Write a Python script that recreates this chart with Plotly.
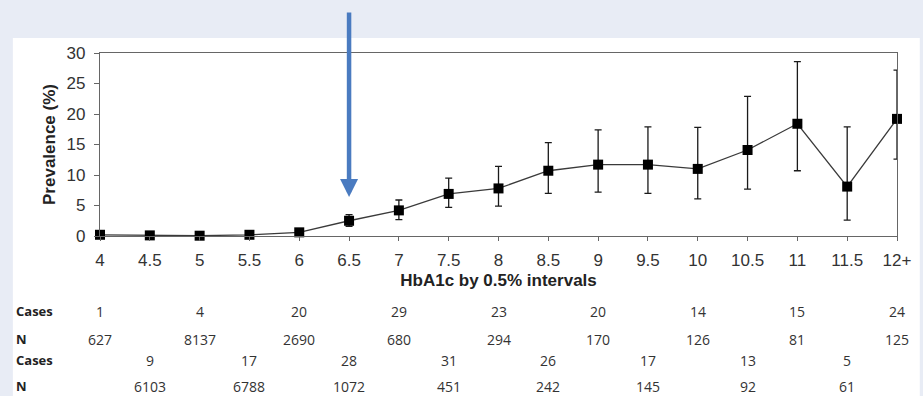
import plotly.graph_objects as go

# HbA1c bands (0.5% intervals) and prevalence with 95% CI
categories = ["4", "4.5", "5", "5.5", "6", "6.5", "7", "7.5", "8", "8.5",
              "9", "9.5", "10", "10.5", "11", "11.5", "12+"]
prevalence = [0.2, 0.1, 0.05, 0.2, 0.6, 2.5, 4.2, 6.9, 7.8, 10.7,
              11.7, 11.7, 11.0, 14.1, 18.4, 8.1, 19.2]
ci_upper = [0.4, 0.2, 0.1, 0.3, 0.9, 3.5, 5.9, 9.5, 11.4, 15.3,
            17.4, 17.9, 17.8, 22.9, 28.6, 17.9, 27.2]
ci_lower = [0.0, 0.0, 0.0, 0.1, 0.4, 1.6, 2.7, 4.7, 4.9, 7.0,
            7.2, 7.0, 6.1, 7.7, 10.7, 2.6, 12.6]

# Counts shown under the axis (cases / N), alternating rows
cases = [1, 9, 4, 17, 20, 28, 29, 31, 23, 26, 20, 17, 14, 13, 15, 5, 24]
totals = [627, 6103, 8137, 6788, 2690, 1072, 680, 451, 294, 242,
          170, 145, 126, 92, 81, 61, 125]

y_ticks = [0, 5, 10, 15, 20, 25, 30]

W, H = 923, 396
L, R, T, B = 100, 18, 53, 160
plot_h = H - T - B

xs = list(range(len(categories)))
err_plus = [u - v for u, v in zip(ci_upper, prevalence)]
err_minus = [v - l for v, l in zip(prevalence, ci_lower)]

fig = go.Figure()
fig.add_trace(go.Scatter(
    x=xs, y=prevalence, mode="lines+markers",
    line=dict(color="#3a3a3a", width=1.3),
    marker=dict(symbol="square", size=10, color="black"),
    error_y=dict(type="data", array=err_plus, arrayminus=err_minus,
                 symmetric=False, color="#1a1a1a", thickness=1.3, width=3.5),
    cliponaxis=False, showlegend=False,
))

def py_to_paper(py):
    return (H - B - py) / plot_h

sans = "Liberation Sans, Arial, sans-serif"
tick_font = dict(family=sans, size=17, color="#333")
table_font = dict(family="Open Sans, Liberation Sans, sans-serif", size=14, color="#333")
label_font = dict(family="Open Sans, Liberation Sans, sans-serif", size=13, color="#222")

annotations = []
row_y = [311, 339, 360, 386]
for i, (c, n) in enumerate(zip(cases, totals)):
    r = 0 if i % 2 == 0 else 2
    annotations.append(dict(x=i, y=py_to_paper(row_y[r]), xref="x", yref="paper",
                            text=str(c), showarrow=False, font=table_font,
                            xanchor="center", yanchor="middle"))
    annotations.append(dict(x=i, y=py_to_paper(row_y[r + 1]), xref="x", yref="paper",
                            text=str(n), showarrow=False, font=table_font,
                            xanchor="center", yanchor="middle"))
for ry, lab in zip(row_y, ["Cases", "N", "Cases", "N"]):
    annotations.append(dict(x=(13 - L) / (W - L - R), y=py_to_paper(ry),
                            xref="paper", yref="paper", text="<b>" + lab + "</b>",
                            showarrow=False, font=label_font,
                            xanchor="left", yanchor="middle"))

# Arrow highlighting the 6.5% threshold
annotations.append(dict(x=categories.index("6.5"), y=6.4, xref="x", yref="y",
                        text="", showarrow=True, axref="pixel", ayref="pixel",
                        ax=0, ay=-186, arrowhead=2, arrowsize=0.8, arrowwidth=4.5,
                        arrowcolor="#4a7bc0", standoff=0))

fig.update_layout(
    width=W, height=H,
    margin=dict(l=L, r=R, t=T, b=B),
    paper_bgcolor="#e8ecf5", plot_bgcolor="white",
    annotations=annotations,
    shapes=[dict(type="rect", xref="paper", yref="paper", layer="below",
                 x0=(12 - L) / (W - L - R), x1=(W + 5 - L) / (W - L - R),
                 y0=py_to_paper(H + 5), y1=py_to_paper(38),
                 fillcolor="white", line=dict(width=0))],
    xaxis=dict(range=[0, len(categories) - 1], tickvals=xs, ticktext=categories,
               showgrid=False, zeroline=False, showline=True, linecolor="#666",
               linewidth=1.2, mirror=True, ticks="outside", ticklen=4,
               tickcolor="#666", tickfont=tick_font, ticklabelstandoff=4,
               title=dict(text="<b>HbA1c by 0.5% intervals</b>",
                          font=dict(family=sans, size=17, color="#222"),
                          standoff=5)),
    yaxis=dict(range=[0, 30], tickvals=y_ticks, showgrid=False, zeroline=False,
               showline=True, linecolor="#666", linewidth=1.2, mirror=True,
               ticks="outside", ticklen=5, tickcolor="#666", tickfont=tick_font,
               ticklabelstandoff=5,
               title=dict(text="<b>Prevalence (%)</b>",
                          font=dict(family=sans, size=17, color="#222"),
                          standoff=6)),
)

fig.write_html("out.html")
